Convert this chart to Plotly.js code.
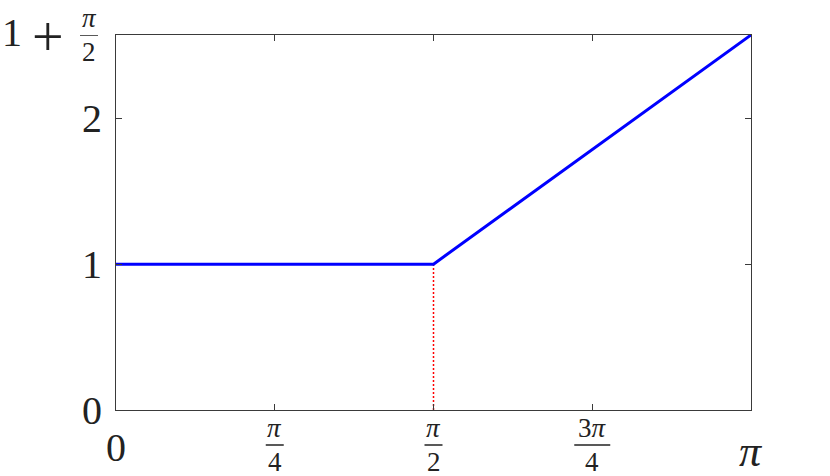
<!DOCTYPE html>
<html>
<head>
<meta charset="utf-8">
<script src="https://cdn.plot.ly/plotly-3.0.1.min.js"></script>
<style>html,body{margin:0;padding:0;background:#fff;}#chart{width:830px;height:476px;}</style>
</head>
<body>
<div id="chart"></div>
<script>
const PI = Math.PI;
// main curve
const curveX = [0, PI / 2, PI];
const curveY = [1, 1, 1 + PI / 2];
// red dotted marker line at x = pi/2
const markX = [PI / 2, PI / 2];
const markY = [0, 1];
// ticks
const xTickVals = [0, PI / 4, PI / 2, 3 * PI / 4, PI];
const xTickNum = ['0', '<i>π</i>', '<i>π</i>', '3<i>π</i>', '<i>π</i>'];
const xTickDen = ['', '4', '2', '4', ''];
const yTickVals = [0, 1, 2, 1 + PI / 2];
const yTickLabels = ['0', '1', '2', '1'];
const yTickOp = ['', '', '', '+'];
const yTickNum = ['', '', '', '<i>π</i>'];
const yTickDen = ['', '', '', '2'];

const FONT = 'Liberation Serif, Times New Roman, serif';
const BIG = 40, SMALL = 27;
const AX = '#3a3a3a';
const TXT = '#222';

const annotations = [];
const shapes = [];

function ann(o) {
  return Object.assign({showarrow: false, borderpad: 0}, o);
}

xTickVals.forEach((v, i) => {
  if (xTickDen[i] === '') {
    const last = i === xTickVals.length - 1;
    annotations.push(ann({xref: 'x', yref: 'paper', x: v, y: 0, xanchor: 'center', yanchor: 'middle',
      yshift: last ? -41 : -37, text: xTickNum[i],
      font: {family: FONT, size: last ? 44 : BIG, color: TXT}}));
  } else {
    const w = xTickNum[i].startsWith('3') ? 18 : 9;
    const bar = -35;
    annotations.push(ann({xref: 'x', yref: 'paper', x: v, y: 0, xanchor: 'center', yanchor: 'bottom',
      yshift: bar + 1, text: xTickNum[i], font: {family: FONT, size: SMALL, color: TXT}}));
    annotations.push(ann({xref: 'x', yref: 'paper', x: v, y: 0, xanchor: 'center', yanchor: 'top',
      yshift: bar - 1, text: xTickDen[i], font: {family: FONT, size: SMALL, color: TXT}}));
    shapes.push({type: 'line', xref: 'x', yref: 'paper', xsizemode: 'pixel', ysizemode: 'pixel',
      xanchor: v, yanchor: 0, x0: -w, x1: w, y0: bar, y1: bar, line: {color: TXT, width: 1.5}});
  }
});

yTickVals.forEach((v, i) => {
  if (yTickDen[i] === '') {
    annotations.push(ann({xref: 'paper', yref: 'y', x: 0, y: v, xanchor: 'right', yanchor: 'middle',
      xshift: -13, text: yTickLabels[i], font: {family: FONT, size: BIG, color: TXT}}));
  } else {
    annotations.push(ann({xref: 'paper', yref: 'y', x: 0, y: v, xanchor: 'center', yanchor: 'middle',
      xshift: -104, yshift: 3, text: yTickLabels[i], font: {family: FONT, size: BIG, color: TXT}}));
    annotations.push(ann({xref: 'paper', yref: 'y', x: 0, y: v, xanchor: 'center', yanchor: 'middle',
      xshift: -68, yshift: -2, text: yTickOp[i], font: {family: FONT, size: 56, color: TXT}}));
    annotations.push(ann({xref: 'paper', yref: 'y', x: 0, y: v, xanchor: 'center', yanchor: 'bottom',
      xshift: -27, yshift: 1, text: yTickNum[i], font: {family: FONT, size: SMALL, color: TXT}}));
    annotations.push(ann({xref: 'paper', yref: 'y', x: 0, y: v, xanchor: 'center', yanchor: 'top',
      xshift: -27, yshift: -1, text: yTickDen[i], font: {family: FONT, size: SMALL, color: TXT}}));
    shapes.push({type: 'line', xref: 'paper', yref: 'y', xsizemode: 'pixel', ysizemode: 'pixel',
      xanchor: 0, yanchor: v, x0: -36, x1: -18, y0: 0, y1: 0, line: {color: TXT, width: 1.5}});
  }
});

const traces = [
  {x: markX, y: markY, mode: 'lines', line: {color: '#ff0000', width: 1.5, dash: '2px,2px'}, hoverinfo: 'skip'},
  {x: curveX, y: curveY, mode: 'lines', line: {color: '#0000ff', width: 3}}
];

const axisCommon = {
  showgrid: false, zeroline: false, showline: true, linecolor: AX, linewidth: 1,
  mirror: 'ticks', ticks: 'inside', ticklen: 6, tickcolor: AX, tickwidth: 1,
  showticklabels: false
};

const layout = {
  width: 830, height: 476,
  margin: {l: 116, r: 79, t: 35, b: 66},
  paper_bgcolor: '#fff', plot_bgcolor: '#fff',
  showlegend: false,
  xaxis: Object.assign({range: [0, PI], tickvals: xTickVals}, axisCommon),
  yaxis: Object.assign({range: [0, 1 + PI / 2], tickvals: yTickVals}, axisCommon),
  annotations: annotations,
  shapes: shapes
};

Plotly.newPlot('chart', traces, layout, {displayModeBar: false, staticPlot: true});
</script>
</body>
</html>
